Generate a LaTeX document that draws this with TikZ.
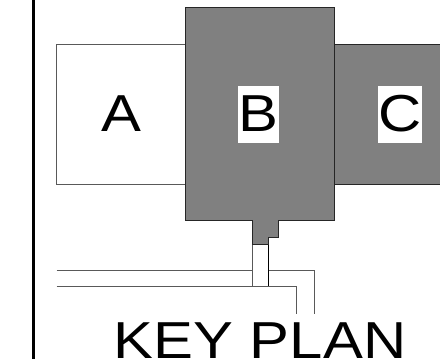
\documentclass[tikz,border=0pt]{standalone}
\usepackage{graphicx}
\usepackage{fontspec}
\setmainfont{Liberation Sans}
\definecolor{wing}{gray}{0.5}
\newcommand{\wideletters}[1]{\scalebox{1.15}[1]{\fontsize{52}{52}\selectfont #1}}
\tikzset{
  thinline/.style={draw=black!65,line width=0.8pt},
  wingfill/.style={fill=wing,draw=black!85,line width=0.9pt},
  letter/.style={inner sep=0pt,text=black,anchor=base,text height=36pt,text depth=0pt},
  whiteletter/.style={letter,fill=white,text height=45pt,text depth=12pt},
}
\begin{document}
\begin{tikzpicture}[x=1pt,y=-1pt]
\useasboundingbox (0,0) rectangle (440,359);
\clip (0,0) rectangle (440,359);
\draw[black,line width=3pt] (33,0) -- (33,359);
\draw[thinline] (185,44.5) -- (56.5,44.5) -- (56.5,184.5) -- (185,184.5);
\draw[wingfill] (445,44.5) -- (334.5,44.5) -- (334.5,184.5) -- (445,184.5) -- cycle;
\draw[wingfill] (185.5,7.5) -- (334.5,7.5) -- (334.5,220.5) -- (278.5,220.5) -- (278.5,237.5) -- (268.5,237.5) -- (268.5,244.5) -- (252.5,244.5) -- (252.5,220.5) -- (185.5,220.5) -- cycle;
\draw[thinline] (252.5,244.5) -- (252.5,286);
\draw[black,line width=0.8pt] (268.5,244.5) -- (268.5,286);
\draw[thinline] (56.5,270.5) -- (252.5,270.5);
\draw[thinline] (56.5,286) -- (296,286) -- (296,314);
\draw[thinline] (268.5,270.5) -- (314,270.5) -- (314,314);
\node[letter] (a) at (121,131) {\wideletters{A}};
\node[whiteletter,minimum width=41pt] (b) at (258.5,131) {\wideletters{B}};
\node[whiteletter,minimum width=44pt] (c) at (400,131) {\wideletters{C}};
\node[letter] (k) at (260,358) {\wideletters{KEY PLAN}};
\end{tikzpicture}
\end{document}
